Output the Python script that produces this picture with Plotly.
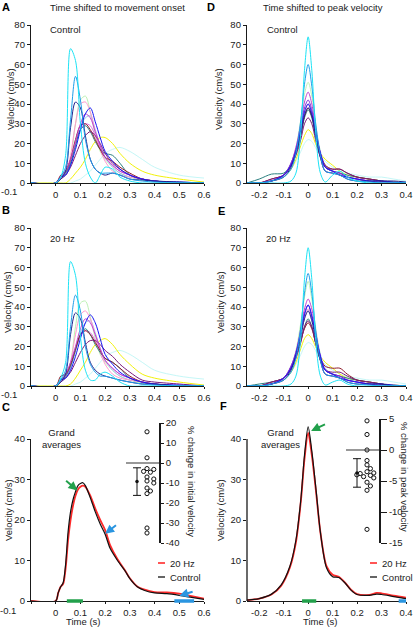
import plotly.graph_objects as go

W, H = 415, 628

# ---------------- data ----------------
# time grids (s)
t_onset = [-0.1, 0, 0.02, 0.04, 0.06, 0.08, 0.1, 0.12, 0.14, 0.16, 0.18, 0.2, 0.23, 0.26, 0.3, 0.35, 0.4, 0.5, 0.6]
t_peak = [-0.25, -0.2, -0.15, -0.1, -0.07, -0.05, -0.03, -0.015, 0, 0.015, 0.03, 0.05, 0.07, 0.1, 0.13, 0.16, 0.2, 0.25, 0.3, 0.35, 0.4]

# Panel A: Control, shifted to movement onset (cm/s)
a_cyan      = [0, 0, 3, 14, 68, 62, 30, 10, 3, 0, 4, 8, 7, 3, 1, 0, 0, 0, 0]
a_skyblue   = [0, 0, 3, 8, 32, 54, 42, 22, 12, 7, 5, 5, 5, 4, 2, 1, 0.5, 0, 0]
a_navy      = [0, 0, 2, 6, 28, 41, 38, 24, 12, 7, 5, 4, 5, 4, 2, 1.5, 1, 0.5, 0]
a_palegreen = [0, 0, 3, 5, 12, 30, 42, 44, 36, 24, 16, 12, 8, 5, 3, 1.5, 1, 0, 0]
a_pink      = [0, 0, 3, 5, 14, 30, 40, 41, 36, 26, 17, 11, 6, 4, 3, 2, 1, 0, 0]
a_blue      = [0, 0, 3, 4, 9, 17, 27, 35, 38, 31, 23, 16, 11, 7, 4, 2, 1, 0.5, 0]
a_steel     = [0, 0, 2, 4, 9, 19, 28, 33, 34, 27, 19, 13, 8, 5, 3, 2, 1, 0, 0]
a_violet    = [0, 0, 3, 6, 12, 21, 30, 35, 33, 26, 19, 13, 9, 6, 4, 2, 1, 0, 0]
a_maroon    = [0, 0, 4, 6, 12, 22, 29, 30, 27, 22, 17, 13, 11, 8, 5, 2, 1, 0, 0]
a_teal      = [0, 0, 3, 5, 10, 19, 27, 29, 26, 21, 17, 15, 14, 10, 4, 2, 1, 0, 0]
a_purple    = [0, 0, 2, 4, 8, 14, 20, 24, 26, 24, 20, 15, 10, 7, 4, 2, 1, 0, 0]
a_yellow    = [0, 0, 0, 0, 2, 5, 8, 12, 17, 21, 23, 23, 20, 15, 10, 6, 4, 2, 0.5]
a_palecyan  = [0, 0, 0, 0, 0, 1, 2, 4, 6, 9, 12, 15, 17, 18, 16, 12, 8, 4, 2.5]
a_orchid    = [0, 0, 3, 5, 11, 20, 27, 30, 29, 24, 18, 13, 9, 6, 4, 2, 1, 0, 0]

# Panel B: 20 Hz, shifted to movement onset
b_cyan      = [0, 0, 4, 12, 63, 56, 25, 8, 3, 3, 6, 7, 5, 2, 0, 0, 0, 0, 0]
b_skyblue   = [0, 0, 3, 8, 30, 46, 38, 20, 11, 7, 5, 5, 4, 3, 2, 1, 0.5, 0, 0]
b_navy      = [0, 0, 2, 6, 26, 37, 34, 22, 12, 8, 6, 5, 4, 3, 2, 1, 1, 0, 0]
b_palegreen = [0, 0, 3, 5, 12, 30, 42, 43, 35, 24, 16, 12, 8, 5, 3, 1.5, 1, 0, 0]
b_pink      = [0, 0, 3, 5, 12, 26, 36, 38, 34, 26, 17, 11, 6, 4, 3, 2, 1, 0, 0]
b_blue      = [0, 0, 3, 4, 8, 15, 24, 32, 36, 32, 24, 16, 11, 7, 4, 2, 1, 0.5, 0]
b_steel     = [0, 0, 2, 4, 9, 18, 27, 32, 33, 27, 19, 13, 8, 5, 3, 2, 1, 0, 0]
b_violet    = [0, 0, 3, 6, 12, 20, 29, 34, 32, 26, 19, 13, 9, 6, 4, 2, 1, 0, 0]
b_maroon    = [0, 0, 5, 6, 11, 19, 26, 28, 26, 22, 18, 14, 12, 9, 5, 2, 1, 0, 0]
b_teal      = [0, 0, 3, 5, 10, 18, 26, 29, 26, 21, 17, 14, 12, 9, 4, 2, 1, 0, 0]
b_purple    = [0, 0, 2, 4, 7, 12, 17, 21, 23, 23, 21, 18, 15, 11, 7, 3, 2, 1, 0]
b_yellow    = [0, 0, 0, 0, 1, 4, 8, 12, 17, 21, 23, 24, 21, 16, 11, 6, 4, 2, 0.5]
b_palecyan  = [0, 0, 0, 0, 0, 1, 2, 4, 6, 9, 12, 15, 17, 18, 16, 12, 8, 5, 3.5]
b_orchid    = [0, 0, 3, 5, 10, 18, 25, 28, 27, 23, 18, 13, 9, 6, 4, 2, 1, 0, 0]

# Panel D: Control, shifted to peak velocity
d_cyan      = [0, 0, 0, 0, 1, 5, 26, 57, 74, 57, 27, 5, 0.5, 4, 6, 3, 1, 0, 0, 0, 0]
d_skyblue   = [0, 0, 1, 3, 7, 15, 32, 50, 60, 49, 31, 14, 6, 5, 4, 2, 1, 0.5, 0, 0, 0]
d_palegreen = [0, 0, 1, 4, 10, 18, 32, 45, 51, 44, 30, 16, 8, 6, 5, 4, 2, 1, 0, 0, 0]
d_violet    = [0, 0, 1, 4, 10, 18, 30, 41, 46, 40, 28, 15, 8, 6, 5, 3, 2, 1, 0, 0, 0]
d_bviolet   = [0, 0, 1, 4, 10, 17, 28, 38, 42, 37, 27, 15, 8, 6, 5, 3, 2, 1, 0, 0, 0]
d_blue      = [0, 0, 1, 4, 9, 16, 27, 36, 40, 35, 26, 15, 8, 6, 4, 3, 2, 1, 1, 0.5, 0]
d_maroon    = [0, 0, 2, 4, 9, 16, 25, 34, 38, 34, 25, 15, 9, 7, 7, 5, 3, 2, 1, 0, 0]
d_teal      = [0, 2, 4.5, 5, 9, 15, 24, 33, 37, 33, 24, 14, 8, 6, 5, 4, 3, 2, 1, 0, 0]
d_purple    = [0, 0, 2, 4, 9, 14, 22, 30, 33, 30, 22, 13, 8, 7, 7, 5, 3, 2, 1, 0, 0]
d_yellow    = [0, 0, 1, 3, 7, 12, 19, 24, 27, 25, 20, 15, 12, 9, 6, 4, 3, 2, 1, 0.5, 0]
d_palecyan  = [0, 0, 1, 3, 7, 11, 16, 20, 22, 21, 18, 14, 11, 8, 6, 5, 4, 3, 3, 2, 1]
d_pink      = [0, 0, 1, 3, 8, 15, 26, 35, 40, 35, 25, 13, 6, 5, 4, 3, 2, 1, 0, 0, 0]
d_navy      = [0, 0, 1, 3, 8, 15, 25, 34, 38, 34, 24, 13, 6, 5, 4, 2, 1, 1, 1, 1, 0.5]
d_steel     = [0, 0, 1, 4, 10, 17, 27, 36, 40, 36, 27, 16, 9, 6, 4, 3, 2, 1, 0.5, 0, 0]

# Panel E: 20 Hz, shifted to peak velocity
e_cyan      = [0, 0, 0, 0, 1, 5, 25, 54, 70, 54, 25, 5, 0.5, 2, 3, 1, 0, 0, 0, 0, 0]
e_skyblue   = [0, 0, 1, 3, 7, 14, 30, 47, 57, 47, 29, 13, 6, 5, 4, 2, 1, 0.5, 0, 0, 0]
e_palegreen = [0, 0, 1, 4, 10, 18, 32, 45, 53, 44, 30, 16, 8, 6, 5, 4, 2, 1, 0, 0, 0]
e_violet    = [0, 0, 1, 4, 10, 17, 29, 39, 44, 39, 28, 15, 8, 6, 5, 3, 2, 1, 0, 0, 0]
e_bviolet   = [0, 0, 1, 4, 10, 17, 28, 37, 41, 36, 27, 15, 8, 6, 5, 3, 2, 1, 0, 0, 0]
e_blue      = [0, 0, 1, 4, 9, 16, 27, 36, 41, 35, 26, 15, 8, 6, 4, 3, 2, 1, 1, 0.5, 0]
e_maroon    = [0, 0, 2, 4, 9, 15, 23, 29, 32, 29, 22, 14, 10, 9, 9, 6, 3, 2, 1, 0, 0]
e_teal      = [0, 1, 2, 4, 9, 15, 23, 30, 34, 30, 22, 13, 8, 6, 5, 4, 3, 2, 1, 0, 0]
e_purple    = [0, 0, 2, 4, 9, 14, 22, 30, 33, 30, 22, 13, 8, 7, 7, 5, 3, 2, 1, 0, 0]
e_yellow    = [0, 0, 1, 3, 7, 12, 19, 24, 26, 24, 20, 15, 12, 9, 6, 4, 3, 2, 1, 0.5, 0]
e_palecyan  = [0, 0, 1, 3, 7, 11, 16, 20, 22, 21, 18, 14, 11, 8, 6, 5, 4, 3, 3, 2, 1]
e_pink      = [0, 0, 1, 3, 8, 15, 26, 34, 39, 34, 25, 13, 6, 5, 4, 3, 2, 1, 0, 0, 0]
e_navy      = [0, 0, 1, 3, 8, 15, 25, 34, 38, 33, 24, 13, 6, 5, 4, 2, 1, 1, 1, 0, 0]
e_steel     = [0, 0, 1, 4, 10, 17, 27, 35, 38, 34, 26, 16, 9, 6, 4, 3, 2, 1, 0.5, 0, 0]

# Panel C: grand averages, onset-aligned
t_avg_onset = [-0.1, 0, 0.01, 0.02, 0.03, 0.04, 0.05, 0.06, 0.07, 0.08, 0.09, 0.1, 0.11, 0.12, 0.14,
               0.16, 0.18, 0.2, 0.22, 0.25, 0.28, 0.3, 0.33, 0.36, 0.4, 0.45, 0.5, 0.55, 0.6]
c_control = [0, 0, 2, 3.5, 4.5, 9, 17, 22, 25, 27, 28.5, 29, 29.2, 28.5, 25.5,
             22, 19, 16.5, 13, 10, 7.5, 5.5, 3.5, 2.6, 2, 1.8, 1.4, 0.9, 0.4]
c_20hz = [0, 0, 2, 3.5, 4.2, 8, 15, 20, 23.5, 26, 27.5, 28.2, 28.5, 28.2, 26,
          22.8, 20, 17.5, 13.8, 10.3, 7.6, 5.6, 3.6, 2.8, 2.2, 2.1, 1.8, 1.2, 0.6]

# Panel F: grand averages, peak-aligned
t_avg_peak = [-0.25, -0.2, -0.15, -0.11, -0.075, -0.05, -0.03, -0.015, 0, 0.015, 0.033, 0.05,
              0.075, 0.1, 0.125, 0.15, 0.175, 0.2, 0.25, 0.28, 0.3, 0.35, 0.4]
f_control = [0.2, 0.6, 1.7, 4, 8.5, 15, 25, 36, 43, 37, 27, 17,
             8.2, 6, 5.8, 4.5, 2.7, 1.6, 1.4, 1.7, 1.6, 1.1, 0.6]
f_20hz = [0.2, 0.6, 1.6, 3.8, 8.2, 14.5, 24.5, 35, 41.5, 36, 26.5, 17,
          8.6, 6.5, 6, 4.6, 2.8, 1.7, 1.5, 2, 1.9, 1.3, 0.8]

# significance bars (s)
c_sig_green = [0.045, 0.11]
c_sig_blue = [0.48, 0.56]
f_sig_green = [-0.025, 0.033]
f_sig_blue = [0.37, 0.4]

# insets: % change per subject, mean and error
c_pct_change = [15.6, 2.6, -2.8, -3.2, -4.2, -4.6, -7, -8, -9, -10, -12.5, -14, -15.3, -32.5, -35]
c_pct_mean, c_pct_err = -9.3, 6.9
f_pct_change = [4.7, 2.5, 0, -1.7, -2.4, -3, -3.5, -3.7, -3.8, -4.0, -4.1, -4.3, -4.5, -5.2, -5.8, -6.5, -12.8]
f_pct_mean, f_pct_err = -3.7, 2.3

onset_ticks = [-0.1, 0, 0.1, 0.2, 0.3, 0.4, 0.5, 0.6]
onset_ticktext = ['', '0', '0.1', '0.2', '0.3', '0.4', '0.5', '0.6']  # '-0.1' drawn at the far left
peak_ticks = [-0.2, -0.1, 0, 0.1, 0.2, 0.3, 0.4]
peak_ticktext = ['-0.2', '-0.1', '0', '0.1', '0.2', '0.3', '0.4']
vel_ticks_80 = [0, 10, 20, 30, 40, 50, 60, 70, 80]
vel_ticks_40 = [0, 10, 20, 30, 40]
c_inset_ticks = [20, 10, 0, -10, -20, -30, -40]
f_inset_ticks = [5, 0, -5, -10, -15]

# ---------------- styles ----------------
COL = {
    'cyan': '#1CE3F5', 'skyblue': '#1E9EEA', 'navy': '#23238C', 'palegreen': '#BDF2B5',
    'pink': '#FF99CC', 'blue': '#1515F5', 'steel': '#9DC3EE', 'violet': '#C040D0',
    'bviolet': '#7B2BD9', 'maroon': '#8E1B2B', 'teal': '#2B7F7F', 'purple': '#7A1A7A',
    'yellow': '#F2F20A', 'palecyan': '#C5F7F7', 'orchid': '#E070E0',
}
FONT = 'Liberation Sans, Arial, sans-serif'
INK = '#1a1a1a'
GREEN = '#22a04b'
BLUE = '#2a95e0'

panel_a = {'palecyan': a_palecyan, 'yellow': a_yellow, 'palegreen': a_palegreen, 'steel': a_steel,
           'pink': a_pink, 'orchid': a_orchid, 'teal': a_teal, 'maroon': a_maroon, 'purple': a_purple,
           'violet': a_violet, 'blue': a_blue, 'navy': a_navy, 'skyblue': a_skyblue, 'cyan': a_cyan}
panel_b = {'palecyan': b_palecyan, 'yellow': b_yellow, 'palegreen': b_palegreen, 'steel': b_steel,
           'pink': b_pink, 'orchid': b_orchid, 'teal': b_teal, 'maroon': b_maroon, 'purple': b_purple,
           'violet': b_violet, 'blue': b_blue, 'navy': b_navy, 'skyblue': b_skyblue, 'cyan': b_cyan}
panel_d = {'palecyan': d_palecyan, 'yellow': d_yellow, 'palegreen': d_palegreen, 'steel': d_steel,
           'pink': d_pink, 'teal': d_teal, 'maroon': d_maroon, 'purple': d_purple, 'violet': d_violet,
           'bviolet': d_bviolet, 'blue': d_blue, 'navy': d_navy, 'skyblue': d_skyblue, 'cyan': d_cyan}
panel_e = {'palecyan': e_palecyan, 'yellow': e_yellow, 'palegreen': e_palegreen, 'steel': e_steel,
           'pink': e_pink, 'teal': e_teal, 'maroon': e_maroon, 'purple': e_purple, 'violet': e_violet,
           'bviolet': e_bviolet, 'blue': e_blue, 'navy': e_navy, 'skyblue': e_skyblue, 'cyan': e_cyan}


def px_x(a, b):
    return [a / W, b / W]


def px_y(top, bottom):
    return [1 - bottom / H, 1 - top / H]


fig = go.Figure()


def add_curves(curves, t, n):
    for key, vals in curves.items():
        fig.add_trace(go.Scatter(x=t, y=vals, mode='lines', xaxis=f'x{n}', yaxis=f'y{n}',
                                 line=dict(color=COL[key], width=1, shape='spline', smoothing=0.9),
                                 showlegend=False, hoverinfo='skip'))


add_curves(panel_a, t_onset, 1)
add_curves(panel_d, t_peak, 2)
add_curves(panel_b, t_onset, 3)
add_curves(panel_e, t_peak, 4)

for t, ctrl, stim, n in [(t_avg_onset, c_control, c_20hz, 5), (t_avg_peak, f_control, f_20hz, 6)]:
    fig.add_trace(go.Scatter(x=t, y=stim, mode='lines', xaxis=f'x{n}', yaxis=f'y{n}',
                             line=dict(color='#ff2a2a', width=1.8, shape='spline', smoothing=0.8),
                             showlegend=False, hoverinfo='skip'))
    fig.add_trace(go.Scatter(x=t, y=ctrl, mode='lines', xaxis=f'x{n}', yaxis=f'y{n}',
                             line=dict(color='#111111', width=1.2, shape='spline', smoothing=0.8),
                             showlegend=False, hoverinfo='skip'))


def swarm(values, px_per_unit, diam=4.0, step=3.4):
    placed, out = [], []
    for v in values:
        y = v * px_per_unit
        off = 0
        for off in (0, step, -step, 2 * step, -2 * step, 3 * step, -3 * step):
            if all((off - px) ** 2 + (y - py) ** 2 >= diam ** 2 for px, py in placed):
                break
        placed.append((off, y))
        out.append(off)
    return out


# insets: x axis units are pixels inside a 39-px-wide domain
for vals, mean, err, n, ppu in [(c_pct_change, c_pct_mean, c_pct_err, 7, 2.0),
                                (f_pct_change, f_pct_mean, f_pct_err, 8, 6.2)]:
    offs = swarm(vals, ppu)
    fig.add_trace(go.Scatter(x=[27 + o for o in offs], y=vals, mode='markers', xaxis=f'x{n}', yaxis=f'y{n}',
                             marker=dict(symbol='circle', size=4.2, color='white',
                                         line=dict(color='#111', width=1)),
                             cliponaxis=False, showlegend=False, hoverinfo='skip'))
    fig.add_trace(go.Scatter(x=[17], y=[mean], mode='markers', xaxis=f'x{n}', yaxis=f'y{n}',
                             marker=dict(size=3.5, color='#111'),
                             error_y=dict(type='data', array=[err], visible=True, color='#111',
                                          thickness=1, width=4),
                             cliponaxis=False, showlegend=False, hoverinfo='skip'))

axis_common = dict(showline=True, linecolor=INK, linewidth=1.3, ticks='outside', tickcolor=INK,
                   tickwidth=1, showgrid=False, zeroline=False, tickangle=0, automargin=False,
                   tickfont=dict(family=FONT, size=9.5, color=INK))

layout = dict(template='none', width=W, height=H, margin=dict(l=0, r=0, t=0, b=0, autoexpand=False),
              paper_bgcolor='white', plot_bgcolor='rgba(0,0,0,0)', showlegend=False, hovermode=False,
              font=dict(family=FONT, size=9.5, color=INK))

panels = [
    (1, (31, 204), (25, 183), [-0.1, 0.6], [0, 80], onset_ticks, onset_ticktext, vel_ticks_80),
    (2, (247, 406), (25, 183), [-0.25, 0.4], [0, 80], peak_ticks, peak_ticktext, vel_ticks_80),
    (3, (31, 204), (228, 386), [-0.1, 0.6], [0, 80], onset_ticks, onset_ticktext, vel_ticks_80),
    (4, (247, 406), (228, 386), [-0.25, 0.4], [0, 80], peak_ticks, peak_ticktext, vel_ticks_80),
    (5, (31, 204), (439, 601), [-0.1, 0.6], [0, 40], onset_ticks, onset_ticktext, vel_ticks_40),
    (6, (247, 406), (418.75, 601), [-0.25, 0.4], [0, 45], peak_ticks, peak_ticktext, vel_ticks_40),
]
for n, xd, yd, xr, yr, xt, xtt, yt in panels:
    layout[f'xaxis{n}'] = dict(axis_common, domain=px_x(*xd), range=xr, anchor=f'y{n}',
                               tickvals=xt, ticktext=xtt, ticklen=2)
    layout[f'yaxis{n}'] = dict(axis_common, domain=px_y(*yd), range=yr, anchor=f'x{n}',
                               tickvals=yt, ticktext=[str(v) for v in yt], ticklen=3)
layout['yaxis6']['showline'] = False

layout['xaxis7'] = dict(domain=px_x(120, 159), range=[0, 39], anchor='y7', visible=False, automargin=False)
layout['yaxis7'] = dict(axis_common, domain=px_y(423, 543), range=[-40, 20], anchor='x7', side='right',
                        linewidth=1.6, ticklen=3, tickvals=c_inset_ticks,
                        ticktext=[str(v) for v in c_inset_ticks])
layout['xaxis8'] = dict(domain=px_x(340, 379), range=[0, 39], anchor='y8', visible=False, automargin=False)
layout['yaxis8'] = dict(axis_common, domain=px_y(419, 543), range=[-15, 5], anchor='x8', side='right',
                        linewidth=2, ticklen=6, tickvals=f_inset_ticks,
                        ticktext=[str(v) for v in f_inset_ticks])


def ann(text, x, y, size=9.5, bold=False, angle=0, xanchor='center'):
    return dict(text=f'<b>{text}</b>' if bold else text, x=x / W, y=1 - y / H, xref='paper', yref='paper',
                showarrow=False, xanchor=xanchor, yanchor='middle', textangle=angle,
                font=dict(family=FONT, size=size, color='black' if bold else INK))


annotations = [
    ann('A', 6, 7, 11, True), ann('D', 211, 7, 11, True), ann('B', 6, 210, 11, True),
    ann('E', 221, 211, 11, True), ann('C', 6, 407, 11, True), ann('F', 223, 406, 11, True),
    ann('Time shifted to movement onset', 117, 7), ann('Time shifted to peak velocity', 323, 7),
    ann('Control', 65, 29), ann('Control', 282, 29), ann('20 Hz', 62, 238), ann('20 Hz', 278, 238),
    ann('Grand<br>averages', 61, 438), ann('Grand<br>averages', 280, 438),
    ann('Velocity (cm/s)', 10, 99, angle=-90), ann('Velocity (cm/s)', 218, 99, angle=-90),
    ann('Velocity (cm/s)', 7, 302, angle=-90), ann('Velocity (cm/s)', 220, 302, angle=-90),
    ann('Velocity (cm/s)', 8, 510, angle=-90), ann('Velocity (cm/s)', 220, 510, angle=-90),
    ann('Time (s)', 83, 621), ann('Time (s)', 320, 621),
    ann('% change in initial velocity', 192, 481, angle=90),
    ann('% change in peak velocity', 405, 477, angle=90),
    ann('20 Hz', 168, 563, xanchor='left'), ann('Control', 168, 577, xanchor='left'),
    ann('20 Hz', 380, 563, xanchor='left'), ann('Control', 380, 577, xanchor='left'),
    ann('-0.1', 9, 192), ann('-0.1', 9, 394), ann('-0.1', 8, 610),
]


def arrow(x, y, ax, ay, n, color):
    return dict(x=x, y=y, ax=ax, ay=ay, xref=f'x{n}', yref=f'y{n}', axref=f'x{n}', ayref=f'y{n}',
                showarrow=True, arrowhead=2, arrowsize=0.9, arrowwidth=2, arrowcolor=color,
                text='', standoff=0)


annotations += [
    arrow(0.088, 27.3, 0.036, 30, 5, GREEN),
    arrow(0.2, 16.6, 0.25, 19, 5, BLUE),
    arrow(0.5, 1.3, 0.56, 2.4, 5, BLUE),
    arrow(0.012, 42, 0.075, 43.8, 6, GREEN),
]
layout['annotations'] = annotations

shapes = [
    # F y axis line (0..40 only, plot area extends to 45)
    dict(type='line', xref='paper', yref='y6', x0=247 / W, x1=247 / W, y0=0, y1=40,
         line=dict(color=INK, width=1.3)),
    # inset zero lines
    dict(type='line', xref='x7', yref='y7', x0=6, x1=39, y0=0, y1=0, line=dict(color='#333', width=1.2)),
    dict(type='line', xref='x8', yref='y8', x0=6, x1=39, y0=0, y1=0, line=dict(color='#333', width=1.2)),
    # legend samples
    dict(type='line', xref='paper', yref='paper', x0=158 / W, x1=165 / W, y0=1 - 563 / H, y1=1 - 563 / H,
         line=dict(color='#ff2a2a', width=1.6)),
    dict(type='line', xref='paper', yref='paper', x0=158 / W, x1=165 / W, y0=1 - 577 / H, y1=1 - 577 / H,
         line=dict(color='#111', width=1.3)),
    dict(type='line', xref='paper', yref='paper', x0=370 / W, x1=377 / W, y0=1 - 563 / H, y1=1 - 563 / H,
         line=dict(color='#ff2a2a', width=1.6)),
    dict(type='line', xref='paper', yref='paper', x0=370 / W, x1=377 / W, y0=1 - 577 / H, y1=1 - 577 / H,
         line=dict(color='#111', width=1.3)),
]
for span, n, color in [(c_sig_green, 5, GREEN), (c_sig_blue, 5, BLUE), (f_sig_green, 6, GREEN), (f_sig_blue, 6, BLUE)]:
    shapes.append(dict(type='line', xref=f'x{n}', yref='paper', x0=span[0], x1=span[1],
                       y0=1 - 601 / H, y1=1 - 601 / H, line=dict(color=color, width=3.5)))
layout['shapes'] = shapes

fig.update_layout(**layout)
fig.write_html('out.html', config={'displayModeBar': False},
               post_script=["document.body.style.margin='0';document.body.style.overflow='hidden';"])
